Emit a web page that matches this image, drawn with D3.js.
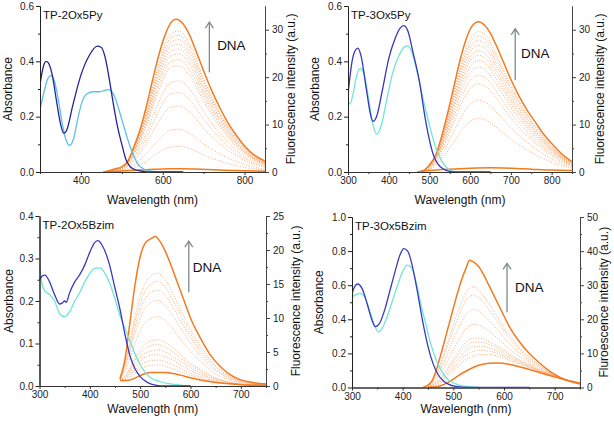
<!DOCTYPE html>
<html>
<head>
<meta charset="utf-8">
<script src="https://cdn.jsdelivr.net/npm/d3@7"></script>
<style>
  body { margin: 0; background: #fff; }
  svg { font-family: "Liberation Sans", Arial, sans-serif; display: block; }
</style>
</head>
<body>
<svg id="chart" width="614" height="425"></svg>
<script>
// ---- TP-2Ox5Py ----
const p1DarkAbs = [[300,0.315],[305,0.36],[310,0.39],[315,0.40],[320,0.395],[330,0.35],[340,0.26],[350,0.175],[358,0.14],[365,0.15],[380,0.24],[400,0.35],[420,0.42],[440,0.455],[450,0.45],[460,0.41],[470,0.33],[480,0.24],[490,0.16],[500,0.1],[510,0.045],[520,0.02],[530,0.01],[545,0.004],[560,0],[650,0]];
const p1LightAbs = [[300,0.225],[310,0.29],[320,0.34],[328,0.348],[335,0.33],[345,0.26],[355,0.17],[365,0.11],[373,0.096],[382,0.12],[392,0.19],[402,0.25],[415,0.283],[430,0.29],[445,0.29],[458,0.295],[469,0.298],[480,0.28],[490,0.24],[500,0.19],[510,0.14],[520,0.093],[530,0.055],[540,0.027],[555,0.01],[570,0.003],[590,0],[645,0]];
const p1TopFl = [[455,0],[470,0.3],[485,0.7],[500,1.1],[515,2.3],[530,5.4],[545,9.0],[560,13.8],[575,19.3],[590,24.5],[605,28.7],[620,31.5],[632,32.2],[650,31.2],[665,29],[680,25.8],[700,21.3],[720,17.1],[740,13.5],[760,10.3],[780,7.7],[800,5.5],[825,3.5],[850,2.3]];
const p1BotFl = [[455,0],[480,0.1],[500,0.2],[530,0.35],[560,0.5],[590,0.6],[620,0.7],[650,0.7],[680,0.62],[710,0.52],[750,0.38],[800,0.25],[850,0.15]];
const p1Grid = [470,500,530,560,590,620,640,670,700,740,780,820,850];
const p1Steps = [
  [0.3,1.0,5.1,12.8,22.6,29.2,29.7,26.2,19.7,12.5,7.2,3.6,2.1],
  [0.3,1.0,4.9,12.4,22.0,28.3,28.8,25.4,19.1,12.1,6.9,3.5,2.0],
  [0.3,1.0,4.8,12.0,21.3,27.4,27.9,24.6,18.5,11.8,6.7,3.4,2.0],
  [0.3,0.9,4.6,11.6,20.5,26.5,26.9,23.8,17.8,11.3,6.5,3.2,1.9],
  [0.3,0.9,4.4,11.2,19.8,25.5,25.9,22.9,17.2,10.9,6.2,3.1,1.8],
  [0.3,0.9,4.3,10.8,19.0,24.5,24.9,22.0,16.5,10.5,6.0,3.0,1.8],
  [0.2,0.8,4.0,10.2,18.1,23.3,23.7,20.9,15.7,10.0,5.7,2.9,1.7],
  [0.2,0.8,3.8,9.7,17.1,22.1,22.4,19.8,14.9,9.5,5.4,2.7,1.6],
  [0.2,0.7,3.3,8.3,14.7,18.9,19.2,17.0,12.7,8.1,4.6,2.3,1.4],
  [0.2,0.6,2.9,7.2,12.8,16.5,16.7,14.8,11.1,7.1,4.0,2.0,1.2],
  [0.1,0.5,2.4,6.0,10.6,13.7,13.9,12.3,9.2,5.9,3.4,1.7,1.0],
  [0.1,0.3,1.5,3.9,6.8,8.8,9.0,7.9,5.9,3.8,2.2,1.1,0.6],
  [0.1,0.2,0.9,2.3,4.1,5.3,5.4,4.8,3.6,2.3,1.3,0.7,0.4]
];

// ---- TP-3Ox5Py ----
const p2DarkAbs = [[300,0.28],[310,0.4],[318,0.44],[324,0.448],[332,0.42],[345,0.3],[355,0.21],[361,0.183],[370,0.2],[385,0.3],[400,0.41],[415,0.48],[428,0.52],[437,0.529],[447,0.51],[460,0.43],[475,0.33],[490,0.19],[500,0.115],[510,0.06],[520,0.03],[535,0.01],[550,0.002],[560,0],[650,0]];
const p2LightAbs = [[300,0.255],[305,0.245],[312,0.28],[320,0.34],[330,0.375],[340,0.35],[350,0.27],[360,0.18],[370,0.137],[380,0.16],[395,0.26],[410,0.36],[425,0.42],[437,0.45],[445,0.457],[455,0.44],[470,0.36],[485,0.26],[500,0.17],[515,0.09],[530,0.04],[545,0.012],[560,0.002],[580,0],[650,0]];
const p2TopFl = [[470,0],[485,0.3],[500,1.5],[515,3.5],[530,7.5],[545,12.5],[560,18],[575,23.5],[590,28],[605,30.8],[620,31.7],[635,31],[650,29.2],[665,26.5],[680,23.5],[700,19.5],[720,16],[740,13],[760,10.5],[780,8],[800,6],[825,3.8],[850,2.2]];
const p2BotFl = [[470,0],[500,0.3],[550,0.6],[600,0.8],[650,0.9],[700,0.8],[750,0.6],[800,0.4],[850,0.3]];
const p2Grid = [480,500,520,540,560,580,600,620,640,670,700,740,780,820,850];
const p2Steps = [
  [0.2,1.4,4.4,10.1,16.9,23.4,28.0,29.6,28.6,23.7,18.2,12.1,7.4,3.8,2.1],
  [0.2,1.3,4.3,9.8,16.4,22.7,27.2,28.7,27.7,23.0,17.7,11.8,7.2,3.7,2.0],
  [0.2,1.3,4.2,9.4,15.8,21.9,26.2,27.7,26.7,22.2,17.0,11.4,6.9,3.6,1.9],
  [0.2,1.3,4.0,9.1,15.2,21.1,25.3,26.7,25.8,21.4,16.4,10.9,6.7,3.5,1.9],
  [0.2,1.2,3.8,8.7,14.6,20.2,24.2,25.6,24.7,20.5,15.7,10.5,6.4,3.3,1.8],
  [0.1,1.2,3.7,8.4,14.0,19.4,23.3,24.6,23.7,19.7,15.1,10.1,6.2,3.2,1.7],
  [0.1,1.1,3.5,8.0,13.4,18.6,22.2,23.5,22.7,18.8,14.5,9.6,5.9,3.1,1.6],
  [0.1,1.0,3.3,7.5,12.6,17.5,20.9,22.1,21.3,17.7,13.6,9.1,5.5,2.9,1.5],
  [0.1,1.0,3.1,6.9,11.6,16.1,19.3,20.4,19.7,16.3,12.5,8.4,5.1,2.7,1.4],
  [0.1,0.9,2.8,6.3,10.6,14.7,17.6,18.6,17.9,14.9,11.4,7.6,4.7,2.4,1.3],
  [0.1,0.7,2.3,5.1,8.6,11.9,14.3,15.1,14.6,12.1,9.3,6.2,3.8,2.0,1.1],
  [0.1,0.5,1.7,3.8,6.4,8.9,10.7,11.3,10.9,9.0,6.9,4.6,2.8,1.5,0.8]
];

// ---- TP-2Ox5Bzim ----
const p3DarkAbs = [[300,0.25],[305,0.258],[311,0.261],[320,0.245],[330,0.215],[340,0.193],[345,0.195],[350,0.2],[353,0.197],[360,0.22],[370,0.245],[380,0.262],[390,0.285],[400,0.315],[410,0.338],[416,0.342],[425,0.33],[438,0.29],[450,0.23],[460,0.18],[470,0.12],[480,0.07],[490,0.04],[500,0.022],[515,0.008],[530,0.002],[550,0],[600,0]];
const p3LightAbs = [[300,0.285],[305,0.24],[310,0.225],[320,0.215],[330,0.2],[340,0.17],[350,0.163],[360,0.175],[370,0.2],[380,0.22],[390,0.245],[400,0.265],[410,0.277],[420,0.278],[430,0.265],[440,0.24],[450,0.205],[460,0.165],[470,0.135],[480,0.105],[490,0.075],[500,0.05],[510,0.032],[520,0.02],[540,0.01],[560,0.005],[600,0]];
const p3TopFl = [[460,1.0],[470,4],[480,9.5],[490,15],[500,19],[510,21],[520,21.6],[530,22],[540,21.2],[550,19.8],[560,18],[570,16],[580,14],[590,12],[600,10],[620,7],[640,4.5],[660,2.8],[680,1.6],[700,0.9],[725,0.5],[750,0.3]];
const p3BotFl = [[460,0.8],[475,0.8],[490,1.2],[505,1.7],[520,2.0],[535,2.0],[550,2.0],[565,1.85],[580,1.6],[600,1.2],[625,0.8],[650,0.5],[700,0.2],[750,0.1]];
const p3Grid = [460,475,490,505,520,535,550,565,580,600,625,650,700,750];
const p3Steps = [
  [1.3,5.0,10.3,14.3,16.1,16.6,15.6,13.6,11.3,8.3,5.3,3.0,0.8,0.3],
  [1.2,4.6,9.5,13.2,14.9,15.4,14.5,12.6,10.5,7.7,4.9,2.8,0.8,0.3],
  [1.1,4.2,8.7,12.1,13.7,14.1,13.3,11.6,9.6,7.1,4.5,2.5,0.7,0.3],
  [1.0,3.8,7.8,10.8,12.2,12.6,11.8,10.3,8.6,6.3,4.0,2.3,0.6,0.3],
  [0.8,3.1,6.3,8.8,9.9,10.2,9.6,8.4,6.9,5.1,3.3,1.8,0.5,0.2],
  [0.8,2.0,4.2,5.8,6.6,6.8,6.4,5.6,4.6,3.4,2.2,1.2,0.3,0.1],
  [0.8,1.8,3.8,5.2,5.9,6.1,5.7,5.0,4.1,3.1,2.0,1.1,0.3,0.1],
  [0.8,1.6,3.3,4.6,5.1,5.3,5.0,4.3,3.6,2.7,1.7,1.0,0.3,0.1],
  [0.8,1.4,2.9,4.0,4.5,4.6,4.3,3.8,3.1,2.3,1.5,0.8,0.2,0.1],
  [0.8,1.1,2.4,3.3,3.7,3.8,3.6,3.1,2.6,1.9,1.2,0.7,0.2,0.1],
  [0.8,0.9,1.9,2.7,3.0,3.1,2.9,2.5,2.1,1.6,1.0,0.6,0.2,0.1]
];

// ---- TP-3Ox5Bzim ----
const p4DarkAbs = [[300,0.55],[305,0.59],[311,0.607],[320,0.58],[330,0.49],[340,0.39],[346,0.357],[355,0.38],[365,0.46],[375,0.57],[385,0.68],[395,0.78],[402,0.815],[410,0.8],[420,0.7],[428,0.58],[440,0.38],[450,0.24],[460,0.14],[470,0.075],[480,0.04],[490,0.02],[505,0.006],[520,0.002],[540,0],[650,0]];
const p4LightAbs = [[300,0.53],[305,0.54],[316,0.552],[325,0.53],[335,0.45],[345,0.36],[352,0.327],[360,0.35],[370,0.42],[380,0.51],[390,0.6],[400,0.68],[409,0.718],[418,0.7],[428,0.6],[435,0.5],[445,0.38],[455,0.26],[465,0.17],[475,0.105],[485,0.06],[495,0.035],[510,0.015],[525,0.006],[550,0]];
const p4TopFl = [[440,0],[455,1.3],[465,4.5],[475,9.5],[485,15],[495,20.5],[505,26],[515,31],[525,35],[532,37.3],[540,36.8],[550,35.5],[560,33],[570,30],[580,27],[595,22.5],[610,18],[630,13.5],[650,10],[670,7.2],[690,4.8],[710,3],[730,1.8],[750,1]];
const p4BotFl = [[450,0],[470,0.3],[490,1.5],[510,3.5],[530,5.2],[550,6.5],[570,7.1],[590,7.2],[610,6.8],[630,6.1],[650,5.3],[670,4.4],[690,3.5],[710,2.7],[730,1.9],[750,1.3]];
const p4Grid = [450,465,480,495,510,525,540,555,570,590,615,640,670,700,750];
const p4Steps = [
  [0.5,3.5,9.3,16.1,22.6,27.8,29.5,27.7,24.6,20.0,14.4,10.3,6.5,3.7,1.1],
  [0.4,3.1,8.4,14.7,20.7,25.6,27.1,25.7,22.9,18.8,13.6,9.8,6.3,3.6,1.1],
  [0.3,2.5,6.9,12.2,17.3,21.4,22.9,21.9,19.7,16.5,12.2,9.0,5.9,3.5,1.1],
  [0.2,1.9,5.3,9.6,13.8,17.2,18.5,18.0,16.5,14.1,10.8,8.2,5.6,3.4,1.2],
  [0.2,1.4,3.8,7.2,10.5,13.3,14.5,14.4,13.5,11.9,9.5,7.4,5.2,3.3,1.2],
  [0.1,1.2,3.4,6.5,9.6,12.1,13.3,13.3,12.7,11.3,9.1,7.2,5.1,3.3,1.2],
  [0.1,1.0,2.9,5.7,8.5,10.8,12.0,12.1,11.7,10.5,8.6,6.9,5.0,3.3,1.2],
  [0.1,0.8,2.4,4.9,7.4,9.5,10.6,10.9,10.7,9.8,8.2,6.6,4.8,3.2,1.3],
  [0.1,0.6,1.9,4.1,6.3,8.2,9.3,9.7,9.7,9.1,7.7,6.4,4.7,3.2,1.3]
];

// ---- ticks ----
const pyXMajor1 = [400,600,800];
const pyXMinor1 = [300,500,700];
const pyXMajor2 = [300,400,500,600,700,800];
const pyXMinor2 = [350,450,550,650,750,850];
const bzXMajor = [300,400,500,600,700];
const bzXMinor = [350,450,550,650,750];
const pyAbsMajor = [0,0.2,0.4,0.6];
const pyAbsMinor = [0.1,0.3,0.5];
const pyFlMajor = [0,10,20,30];
const pyFlMinor = [5,15,25];
const bz1AbsMajor = [0,0.1,0.2,0.3,0.4];
const bz1AbsMinor = [0.05,0.15,0.25,0.35];
const bz1FlMajor = [0,5,10,15,20,25];
const bz1FlMinor = [2.5,7.5,12.5,17.5,22.5];
const bz2AbsMajor = [0,0.2,0.4,0.6,0.8,1.0];
const bz2AbsMinor = [0.1,0.3,0.5,0.7,0.9];
const bz2FlMajor = [0,10,20,30,40,50];
const bz2FlMinor = [5,15,25,35,45];

const panels = [
  {
    name: 'TP-2Ox5Py', left: 40, right: 265, top: 6, bottom: 172,
    xDomain: [300, 850], xMajor: pyXMajor1, xMinor: pyXMinor1,
    absDomain: [0, 0.6], absMajor: pyAbsMajor, absMinor: pyAbsMinor,
    flDomain: [0, 35], flMajor: pyFlMajor, flMinor: pyFlMinor,
    dark: p1DarkAbs, light: p1LightAbs, topFl: p1TopFl, botFl: p1BotFl,
    grid: p1Grid, steps: p1Steps,
    darkColor: '#24249a', lightColor: '#5bbfe8',
    flLabel: 'Fluorescence intensity (a.u.)',
    arrow: [714, 21, 31.6], dna: [733, 25.7],
    absX: 8, flX: 291, xTitleY: 204,
  },
  {
    name: 'TP-3Ox5Py', left: 348, right: 572, top: 6, bottom: 172,
    xDomain: [300, 850], xMajor: pyXMajor2, xMinor: pyXMinor2,
    absDomain: [0, 0.6], absMajor: pyAbsMajor, absMinor: pyAbsMinor,
    flDomain: [0, 35], flMajor: pyFlMajor, flMinor: pyFlMinor,
    dark: p2DarkAbs, light: p2LightAbs, topFl: p2TopFl, botFl: p2BotFl,
    grid: p2Grid, steps: p2Steps,
    darkColor: '#3636c0', lightColor: '#6fe6d6',
    flLabel: 'Fluorescence intensity (a.u.)',
    arrow: [710.6, 19.4, 30.2], dna: [725, 24.1],
    absX: 315, flX: 600, xTitleY: 204,
  },
  {
    name: 'TP-2Ox5Bzim', left: 39.5, right: 266, top: 216, bottom: 386,
    xDomain: [300, 750], xMajor: bzXMajor, xMinor: bzXMinor,
    absDomain: [0, 0.4], absMajor: bz1AbsMajor, absMinor: bz1AbsMinor,
    flDomain: [0, 25], flMajor: bz1FlMajor, flMinor: bz1FlMinor,
    dark: p3DarkAbs, light: p3LightAbs, topFl: p3TopFl, botFl: p3BotFl,
    grid: p3Grid, steps: p3Steps,
    darkColor: '#3a3ac4', lightColor: '#6fe6d6',
    flLabel: 'Fluorescence intensity (a.u.)',
    arrow: [596.6, 13.8, 21.3], dna: [604.6, 16.8],
    absX: 9, flX: 296, xTitleY: 413,
  },
  {
    name: 'TP-3Ox5Bzim', left: 352, right: 580, top: 217, bottom: 387.5,
    xDomain: [300, 750], xMajor: bzXMajor, xMinor: bzXMinor,
    absDomain: [0, 1.0], absMajor: bz2AbsMajor, absMinor: bz2AbsMinor,
    flDomain: [0, 50], flMajor: bz2FlMajor, flMinor: bz2FlMinor,
    dark: p4DarkAbs, light: p4LightAbs, topFl: p4TopFl, botFl: p4BotFl,
    grid: p4Grid, steps: p4Steps,
    darkColor: '#3a3ac0', lightColor: '#6fe6d6',
    flLabel: 'Fluroescence intensity (a.u.)',
    arrow: [606, 22.1, 36.4], dna: [621.7, 27.9],
    absX: 319, flX: 604, xTitleY: 413,
  },
];

const orange = '#f47a1e';
const svg = d3.select('#chart');

function styleAxis(g, color) {
  g.selectAll('path.domain').attr('stroke', color).attr('stroke-width', 1);
  g.selectAll('.tick line').attr('stroke', color);
  g.selectAll('.tick text').attr('fill', '#222').style('font-size', '10px');
}

panels.forEach((p, i) => {
  const x = d3.scaleLinear().domain(p.xDomain).range([p.left, p.right]);
  const yA = d3.scaleLinear().domain(p.absDomain).range([p.bottom, p.top]);
  const yF = d3.scaleLinear().domain(p.flDomain).range([p.bottom, p.top]);

  const clipId = `clip${i}`;
  svg.append('clipPath').attr('id', clipId)
    .append('rect')
    .attr('x', p.left).attr('y', p.top - 2)
    .attr('width', p.right - p.left).attr('height', p.bottom - p.top + 2);

  const g = svg.append('g').attr('clip-path', `url(#${clipId})`);

  const lineF = d3.line().x((d) => x(d[0])).y((d) => yF(d[1])).curve(d3.curveMonotoneX);
  const lineA = d3.line().x((d) => x(d[0])).y((d) => yA(d[1])).curve(d3.curveMonotoneX);

  // titration steps (dotted)
  g.selectAll('path.step')
    .data(p.steps)
    .join('path')
    .attr('class', 'step')
    .attr('d', (row) => lineF(p.grid.map((w, k) => [w, row[k]])))
    .attr('fill', 'none')
    .attr('stroke', '#f79550')
    .attr('stroke-width', 0.9)
    .attr('stroke-opacity', 0.85)
    .attr('stroke-dasharray', '1,1.6');

  [p.botFl, p.topFl].forEach((s) => {
    g.append('path').attr('d', lineF(s))
      .attr('fill', 'none').attr('stroke', orange).attr('stroke-width', 1.5);
  });

  g.append('path').attr('d', lineA(p.light))
    .attr('fill', 'none').attr('stroke', p.lightColor).attr('stroke-width', 1.3);
  g.append('path').attr('d', lineA(p.dark))
    .attr('fill', 'none').attr('stroke', p.darkColor).attr('stroke-width', 1.3);

  // axes
  const fmtA = d3.format('.1f');
  const gl = svg.append('g').attr('transform', `translate(${p.left},0)`);
  gl.call(d3.axisLeft(yA).tickValues(p.absMajor).tickFormat(fmtA).tickSize(4).tickSizeOuter(0).tickPadding(2));
  styleAxis(gl, '#222');
  const glm = svg.append('g').attr('transform', `translate(${p.left},0)`);
  glm.call(d3.axisLeft(yA).tickValues(p.absMinor).tickFormat('').tickSize(2).tickSizeOuter(0));
  styleAxis(glm, '#222');

  const gr = svg.append('g').attr('transform', `translate(${p.right},0)`);
  gr.call(d3.axisRight(yF).tickValues(p.flMajor).tickSize(4).tickSizeOuter(0).tickPadding(3));
  styleAxis(gr, '#444');
  const grm = svg.append('g').attr('transform', `translate(${p.right},0)`);
  grm.call(d3.axisRight(yF).tickValues(p.flMinor).tickFormat('').tickSize(2).tickSizeOuter(0));
  styleAxis(grm, '#444');

  const gb = svg.append('g').attr('transform', `translate(0,${p.bottom})`);
  gb.call(d3.axisBottom(x).tickValues(p.xMajor).tickSize(3).tickSizeOuter(0).tickPadding(2));
  styleAxis(gb, '#333');
  const gbm = svg.append('g').attr('transform', `translate(0,${p.bottom})`);
  gbm.call(d3.axisBottom(x).tickValues(p.xMinor).tickFormat('').tickSize(2).tickSizeOuter(0));
  styleAxis(gbm, '#333');

  // titles
  const midY = (p.top + p.bottom) / 2;
  svg.append('text')
    .attr('transform', `translate(${p.absX},${midY}) rotate(-90)`)
    .attr('text-anchor', 'middle').attr('dy', '0.35em')
    .style('font-size', '12px').attr('fill', '#111')
    .text('Absorbance');
  svg.append('text')
    .attr('transform', `translate(${p.flX},${midY}) rotate(-90)`)
    .attr('text-anchor', 'middle').attr('dy', '0.35em')
    .style('font-size', '12px').attr('fill', '#111')
    .text(p.flLabel);
  svg.append('text')
    .attr('x', (p.left + p.right) / 2).attr('y', p.xTitleY)
    .attr('text-anchor', 'middle')
    .style('font-size', '12px').attr('fill', '#111')
    .text('Wavelength (nm)');
  svg.append('text')
    .attr('x', p.left + 3).attr('y', p.top + 13)
    .style('font-size', '11.5px').attr('fill', '#111')
    .text(p.name);

  // DNA arrow
  const [ax, a0, a1] = p.arrow;
  const axp = x(ax);
  svg.append('line')
    .attr('x1', axp).attr('x2', axp)
    .attr('y1', yF(a0)).attr('y2', yF(a1))
    .attr('stroke', '#7f8b8b').attr('stroke-width', 1.3);
  svg.append('path')
    .attr('d', `M${axp - 4},${yF(a1) + 6}L${axp},${yF(a1)}L${axp + 4},${yF(a1) + 6}`)
    .attr('fill', 'none').attr('stroke', '#7f8b8b').attr('stroke-width', 1.3);
  svg.append('text')
    .attr('x', x(p.dna[0])).attr('y', yF(p.dna[1]))
    .style('font-size', '13.5px').attr('fill', '#111')
    .text('DNA');
});
</script>
</body>
</html>
